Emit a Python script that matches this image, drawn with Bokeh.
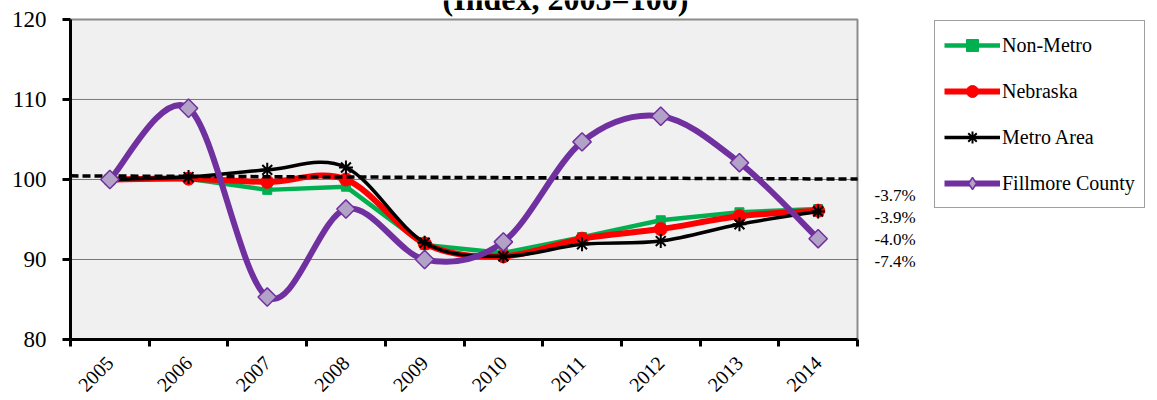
import numpy as np
from math import pi
from bokeh.plotting import figure
from bokeh.models import Range1d, FixedTicker, Label, Legend, LegendItem, ColumnDataSource
from bokeh.embed import file_html
from bokeh.resources import INLINE

# ---------------- data ----------------
years = ["2005", "2006", "2007", "2008", "2009", "2010", "2011", "2012", "2013", "2014"]
non_metro = [100.0, 100.1, 98.7, 99.1, 91.8, 90.8, 92.8, 94.9, 95.9, 96.3]
nebraska = [100.0, 100.1, 99.7, 100.0, 92.0, 90.4, 92.6, 93.8, 95.4, 96.1]
metro_area = [100.0, 100.3, 101.2, 101.5, 92.1, 90.4, 91.9, 92.3, 94.4, 96.0]
fillmore = [100.0, 108.9, 85.3, 96.3, 90.0, 92.2, 104.7, 107.9, 102.1, 92.6]
change_labels = ["-3.7%", "-3.9%", "-4.0%", "-7.4%"]
ref_line_y = [100.45, 100.05]  # dashed reference line (start, end)
y_ticks = [80, 90, 100, 110, 120]

SERIF = "Liberation Serif"
n = len(years)
xs = [i + 0.5 for i in range(n)]

# layout (pixels)
W, H = 1157, 400
LEFT, TOP, BOTTOM = 70, 19, 60
PLOT_W = 787                      # width of the grey plot area
PLOT_H = H - BOTTOM - TOP         # height of the grey plot area
FRAME_W = W - LEFT                # frame runs to the right edge (legend/labels live there)
FRAME_H = H - BOTTOM              # and up to the top edge (title lives there)
x_end = n * FRAME_W / PLOT_W
y_end = y_ticks[0] + (y_ticks[-1] - y_ticks[0]) * FRAME_H / PLOT_H


def smooth_segments(x, y):
    """Bezier control points (Catmull-Rom style) through the data points."""
    m = len(x)
    d = dict(x0=[], y0=[], x1=[], y1=[], cx0=[], cy0=[], cx1=[], cy1=[])
    for i in range(m - 1):
        i0, i3 = max(i - 1, 0), min(i + 2, m - 1)
        d["x0"].append(x[i]); d["y0"].append(y[i])
        d["x1"].append(x[i + 1]); d["y1"].append(y[i + 1])
        d["cx0"].append(x[i] + (x[i + 1] - x[i0]) / 6.0)
        d["cy0"].append(y[i] + (y[i + 1] - y[i0]) / 6.0)
        d["cx1"].append(x[i + 1] - (x[i3] - x[i]) / 6.0)
        d["cy1"].append(y[i + 1] - (y[i3] - y[i]) / 6.0)
    return ColumnDataSource(d)


p = figure(width=W, height=H, output_backend="svg", toolbar_location=None,
           x_range=Range1d(0, x_end), y_range=Range1d(y_ticks[0], y_end),
           min_border_left=LEFT, min_border_right=0, min_border_top=0, min_border_bottom=BOTTOM)

p.background_fill_color = "white"
p.border_fill_color = "white"
p.outline_line_color = None

# grey plot area with grey top/right border
p.quad(left=0, right=n, bottom=y_ticks[0], top=y_ticks[-1], fill_color="#F0F0F0",
       line_color="#8C8C8C", line_width=2, level="image")

# axes
p.xaxis.bounds = (0, n)
p.xaxis.ticker = FixedTicker(ticks=xs, minor_ticks=list(range(n + 1)))
p.xaxis.major_label_overrides = {x: yr for x, yr in zip(xs, years)}
p.xaxis.major_label_orientation = pi / 4
p.xaxis.major_tick_out = 0
p.xaxis.major_tick_in = 0
p.xaxis.minor_tick_out = 7
p.xaxis.minor_tick_in = 0
p.xaxis.minor_tick_line_width = 3
p.xaxis.minor_tick_line_color = "black"
p.xaxis.axis_line_width = 3
p.xaxis.axis_line_color = "black"
p.xaxis.major_label_text_font = SERIF
p.xaxis.major_label_text_font_size = "20px"
p.xaxis.major_label_text_color = "black"
p.xaxis.major_label_standoff = 13

p.yaxis.bounds = (y_ticks[0], y_ticks[-1])
p.yaxis.ticker = FixedTicker(ticks=y_ticks, minor_ticks=[])
p.yaxis.major_tick_out = 8
p.yaxis.major_tick_in = 0
p.yaxis.major_tick_line_width = 3
p.yaxis.major_tick_line_color = "black"
p.yaxis.axis_line_width = 3
p.yaxis.axis_line_color = "black"
p.yaxis.major_label_text_font = SERIF
p.yaxis.major_label_text_font_size = "23px"
p.yaxis.major_label_text_color = "black"
p.yaxis.major_label_standoff = 16

p.xgrid.visible = False
p.ygrid.visible = False
# dotted horizontal gridlines limited to the plot area
inner = y_ticks[1:-1]
p.segment(x0=[0] * len(inner), x1=[n] * len(inner), y0=inner, y1=inner,
          line_color="black", line_width=1, line_dash="1 1")

# series
GREEN, RED, BLACK, PURPLE, LILAC = "#00B050", "#FF0000", "#000000", "#7030A0", "#B3A2C7"
BZ = dict(x0="x0", y0="y0", x1="x1", y1="y1", cx0="cx0", cy0="cy0", cx1="cx1", cy1="cy1")

p.line(xs, non_metro, line_color=GREEN, line_width=4.5)
g_m = p.scatter(xs, non_metro, marker="square", size=9, fill_color=GREEN, line_color=GREEN)

p.bezier(source=smooth_segments(xs, nebraska), line_color=RED, line_width=6, line_cap="round", **BZ)
r_m = p.scatter(xs, nebraska, marker="circle", size=13, fill_color=RED, line_color=RED)

p.bezier(source=smooth_segments(xs, metro_area), line_color=BLACK, line_width=3.5, line_cap="round", **BZ)
k_m = p.scatter(xs, metro_area, marker="asterisk", size=14, line_color=BLACK, line_width=2)

p.line([0, n], ref_line_y, line_color="black", line_width=3.5, line_dash="8 4")

p.bezier(source=smooth_segments(xs, fillmore), line_color=PURPLE, line_width=6, line_cap="round", **BZ)
p.scatter(xs, fillmore, marker="square", angle=pi / 4, size=13,
          fill_color=LILAC, line_color=PURPLE, line_width=1.5)

# legend proxies (a single missing value, so nothing is drawn in the plot)
g_l = p.line(x=[np.nan], y=[np.nan], line_color=GREEN, line_width=4.5)
r_l = p.line(x=[np.nan], y=[np.nan], line_color=RED, line_width=6)
k_l = p.line(x=[np.nan], y=[np.nan], line_color=BLACK, line_width=3.5)
f_l = p.line(x=[np.nan], y=[np.nan], line_color=PURPLE, line_width=6)
f_lm = p.scatter(x=[np.nan], y=[np.nan], marker="diamond", size=16,
                 fill_color=LILAC, line_color=PURPLE, line_width=1.5)

legend = Legend(items=[
    LegendItem(label="Non-Metro", renderers=[g_l, g_m]),
    LegendItem(label="Nebraska", renderers=[r_l, r_m]),
    LegendItem(label="Metro Area", renderers=[k_l, k_m]),
    LegendItem(label="Fillmore County", renderers=[f_l, f_lm]),
], location=(864, 131))
legend.label_text_font = SERIF
legend.label_text_font_size = "20px"
legend.label_text_color = "black"
legend.glyph_width = 56
legend.glyph_height = 30
legend.label_height = 30
legend.spacing = 16
legend.padding = 9
legend.margin = 0
legend.label_standoff = 2
legend.border_line_color = "#404040"
legend.border_line_width = 1.5
legend.background_fill_color = "white"
legend.background_fill_alpha = 1
p.add_layout(legend)

# change labels at right of plot area
for i, t in enumerate(change_labels):
    p.add_layout(Label(x=804, y=144 - 22 * i, x_units="screen", y_units="screen", text=t,
                       text_font=SERIF, text_font_size="17px", text_color="black",
                       text_baseline="middle", text_align="left"))

# title (its upper part is cut off in the reference)
p.add_layout(Label(x=495, y=341, x_units="screen", y_units="screen", text="(Index, 2005=100)",
                   text_font=SERIF, text_font_size="32px", text_font_style="bold",
                   text_color="black", text_align="center", text_baseline="alphabetic"))

open("out.html", "w").write(file_html(p, INLINE))
